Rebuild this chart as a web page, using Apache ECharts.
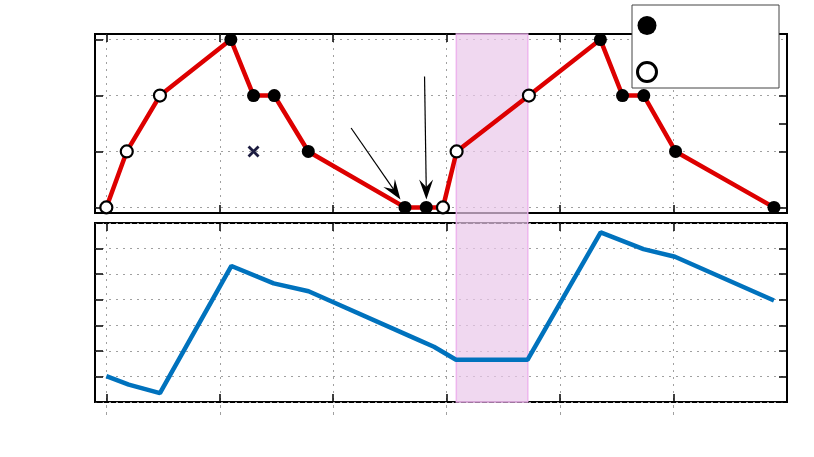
<!DOCTYPE html>
<html>
<head>
<meta charset="utf-8">
<script src="https://cdn.jsdelivr.net/npm/echarts@6/dist/echarts.min.js"></script>
<style>
  html, body { margin: 0; padding: 0; background: #fff; }
  #chart { width: 814px; height: 457px; }
</style>
</head>
<body>
<div id="chart"></div>
<script>
// top panel: step values (1 = filled marker, 0 = open marker)
var stateX = [0, 0.72, 1.89, 4.39, 5.19, 5.92, 7.12, 10.53, 11.28, 11.87, 12.35, 14.9, 17.42, 18.2, 18.95, 20.07, 23.54];
var stateY = [0, 1, 2, 3, 2, 2, 1, 0, 0, 0, 1, 2, 3, 2, 2, 1, 0];
var stateFilled = [0, 0, 0, 1, 1, 1, 1, 1, 1, 0, 0, 0, 1, 1, 1, 1, 1];
var crossX = [5.19];
var crossY = [1];

// bottom panel: blue curve
var levelX = [0, 0.79, 1.89, 4.41, 5.9, 7.13, 11.0, 11.55, 12.33, 14.85, 17.43, 18.94, 20.05, 23.54];
var levelY = [1.01, 0.68, 0.35, 5.32, 4.64, 4.33, 2.43, 2.16, 1.65, 1.65, 6.63, 5.98, 5.68, 3.97];

// shaded band and annotation arrows
var bandRange = [12.34, 14.86];
var arrowFrom = [[8.63, 1.42], [11.22, 2.34]];
var arrowTo = [[10.17, 0.29], [11.28, 0.32]];

// ticks
var xTicks = [0, 4, 8, 12, 16, 20];
var topLeftTicks = [0, 1, 2, 3];
var topRightTicks = [0, 1, 1.5, 2];

var chart = echarts.init(document.getElementById("chart"));

var gridLine = { show: true, lineStyle: { color: "#a0a0a0", width: 1, type: [2, 5] } };
var tickIn = { show: true, inside: true, length: 8, lineStyle: { color: "#000", width: 1.5 } };
var noLine = { show: false, onZero: false };

function xAxisFor(grid, pos, split) {
  return {
    type: "value", gridIndex: grid, position: pos,
    min: -0.4, max: 24, minInterval: 4, maxInterval: 4,
    axisLine: noLine,
    axisTick: Object.assign({}, tickIn, { customValues: xTicks }),
    axisLabel: { show: false },
    splitLine: split ? gridLine : { show: false }
  };
}

var stateData = stateX.map(function (x, i) {
  var filled = stateFilled[i] === 1;
  return {
    value: [x, stateY[i]],
    symbolSize: filled ? 13 : 12,
    itemStyle: filled
      ? { color: "#000", borderWidth: 0 }
      : { color: "#fff", borderColor: "#000", borderWidth: 2.2 }
  };
});

var arrowData = arrowFrom.map(function (p, i) {
  return [{ coord: p }, { coord: arrowTo[i] }];
});

chart.setOption({
  animation: false,
  grid: [
    { left: 95, right: 27, top: 34, height: 179, show: true, borderColor: "#000", borderWidth: 2 },
    { left: 95, right: 27, top: 223, height: 179, show: true, borderColor: "#000", borderWidth: 2 },
    { left: 95, right: 27, top: 34, height: 368, show: false }
  ],
  legend: {
    left: 632, top: 5, orient: "vertical",
    itemWidth: 19, itemHeight: 19, itemGap: 26,
    padding: [11, 121, 5, 4],
    borderColor: "#444", borderWidth: 1, backgroundColor: "#fff",
    selectedMode: false,
    icon: "circle",
    formatter: function () { return ""; },
    data: [
      { name: "filled", itemStyle: { color: "#000", opacity: 1, borderWidth: 0 } },
      { name: "open", itemStyle: { color: "#fff", opacity: 1, borderColor: "#000", borderWidth: 3 } }
    ]
  },
  xAxis: [
    xAxisFor(0, "bottom", true),
    xAxisFor(0, "top", false),
    xAxisFor(1, "bottom", true),
    xAxisFor(1, "top", false),
    {
      // dashed stubs under the lower panel
      type: "value", gridIndex: 1, position: "bottom", offset: 3,
      min: -0.4, max: 24,
      axisLine: noLine,
      axisTick: { show: true, length: 12, customValues: xTicks, lineStyle: { color: "#a0a0a0", width: 1, type: [3, 4] } },
      axisLabel: { show: false },
      splitLine: { show: false }
    },
    { type: "value", gridIndex: 2, min: -0.4, max: 24, show: false }
  ],
  yAxis: [
    {
      type: "value", gridIndex: 0, position: "left",
      min: -0.1, max: 3.1, minInterval: 1, maxInterval: 1,
      axisLine: noLine,
      axisTick: Object.assign({}, tickIn, { customValues: topLeftTicks }),
      axisLabel: { show: false },
      splitLine: gridLine
    },
    {
      type: "value", gridIndex: 0, position: "right",
      min: -0.1, max: 3.1,
      axisLine: noLine,
      axisTick: Object.assign({}, tickIn, { customValues: topRightTicks }),
      axisLabel: { show: false },
      splitLine: { show: false }
    },
    {
      type: "value", gridIndex: 1, position: "left",
      min: 0, max: 7, interval: 1,
      axisLine: noLine,
      axisTick: tickIn,
      axisLabel: { show: false },
      splitLine: gridLine
    },
    {
      type: "value", gridIndex: 1, position: "right",
      min: 0, max: 7, interval: 1,
      axisLine: noLine,
      axisTick: tickIn,
      axisLabel: { show: false },
      splitLine: { show: false }
    },
    { type: "value", gridIndex: 2, min: 0, max: 1, show: false }
  ],
  series: [
    {
      // shaded band across both panels
      type: "line", xAxisIndex: 5, yAxisIndex: 4, data: [], z: 3, silent: true,
      markArea: {
        silent: true,
        itemStyle: { color: "rgba(234,199,234,0.7)", borderColor: "rgba(236,176,236,0.9)", borderWidth: 1.5 },
        data: [[{ xAxis: bandRange[0] }, { xAxis: bandRange[1] }]]
      }
    },
    {
      name: "state", type: "line", xAxisIndex: 0, yAxisIndex: 0, z: 5,
      data: stateData,
      symbol: "circle", showAllSymbol: true,
      lineStyle: { color: "#dd0000", width: 4.5 },
      itemStyle: { color: "#000" }
    },
    {
      type: "scatter", xAxisIndex: 0, yAxisIndex: 0, z: 5,
      data: crossX.map(function (x, i) { return [x, crossY[i]]; }),
      symbol: "path://M0,0L10,10M10,0L0,10", symbolSize: 10,
      itemStyle: { color: "none", borderColor: "#1c1c40", borderWidth: 2.8, opacity: 1 }
    },
    {
      type: "line", xAxisIndex: 0, yAxisIndex: 0, data: [], z: 5,
      markLine: {
        silent: true,
        symbol: ["none", "path://M6,0L12,16L6,10L0,16Z"],
        symbolSize: [14, 20],
        label: { show: false },
        lineStyle: { color: "#000", width: 1.2, type: "solid" },
        data: arrowData
      }
    },
    {
      name: "level", type: "line", xAxisIndex: 2, yAxisIndex: 2, z: 5,
      data: levelX.map(function (x, i) { return [x, levelY[i]]; }),
      showSymbol: false,
      lineStyle: { color: "#0072bd", width: 4.5 }
    },
    // legend-only entries
    { name: "filled", type: "scatter", xAxisIndex: 0, yAxisIndex: 0, data: [], itemStyle: { color: "#000", opacity: 1 } },
    { name: "open", type: "scatter", xAxisIndex: 0, yAxisIndex: 0, data: [], itemStyle: { color: "#fff", borderColor: "#000", borderWidth: 3, opacity: 1 } }
  ]
});
</script>
</body>
</html>
